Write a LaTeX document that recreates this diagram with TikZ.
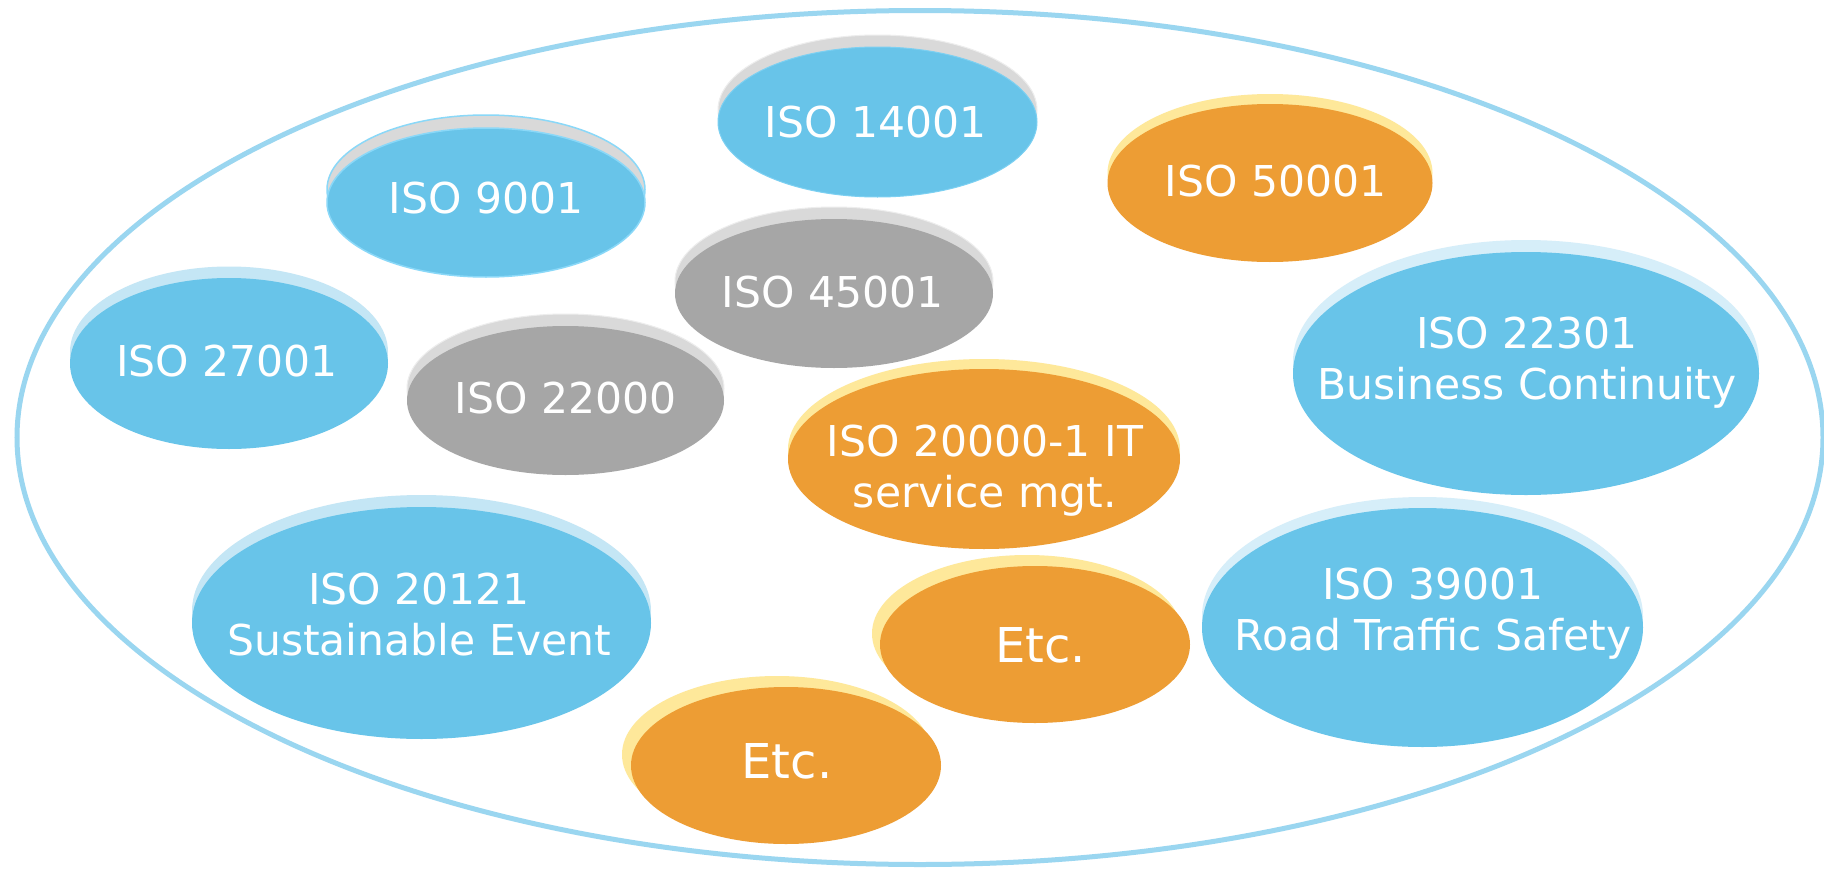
\documentclass[tikz,border=0pt]{standalone}
\usepackage{fontspec}
\usetikzlibrary{shapes.geometric}
\newfontfamily\lblfont{DejaVu Sans}

\definecolor{blueMain}{HTML}{68C4E9}
\definecolor{orangeMain}{HTML}{ED9D34}
\definecolor{grayMain}{HTML}{A6A6A6}
\definecolor{grayBack}{HTML}{D9D9D9}
\definecolor{grayEdge}{HTML}{EDEDED}
\definecolor{yellowBack}{HTML}{FEE89A}
\definecolor{lblueBack}{HTML}{C4E6F5}
\definecolor{pblueBack}{HTML}{D6EEF9}
\definecolor{edgeBlue}{HTML}{8AD8F8}
\definecolor{outerBlue}{HTML}{9AD6F0}

\tikzset{
  blob/.style={ellipse, inner sep=0pt, outer sep=0pt},
  % back (highlight) and front fills for each colour family
  gb back/.style={fill=grayBack, draw=grayEdge, line width=1pt},
  gb main/.style={fill=blueMain, draw=edgeBlue!60!blueMain, line width=1pt},
  eb back/.style={fill=grayBack, draw=edgeBlue, line width=1.5pt},
  eb main/.style={fill=blueMain, draw=edgeBlue, line width=1.5pt},
  gg back/.style={fill=grayBack, draw=grayEdge, line width=1pt},
  gg main/.style={fill=grayMain},
  lb back/.style={fill=lblueBack},
  lb main/.style={fill=blueMain},
  pb back/.style={fill=pblueBack},
  pb main/.style={fill=blueMain},
  yo back/.style={fill=yellowBack},
  yo main/.style={fill=orangeMain},
  lbl/.style={text=white, inner sep=0pt, align=center,
    font=\lblfont\fontsize{42.5}{51}\selectfont},
  etclbl/.style={lbl, font=\lblfont\fontsize{48}{58}\selectfont},
  outerring/.style={draw=outerBlue, line width=5pt},
}

% fixed line strut for two-line labels
\newcommand\zs{\rule[-11pt]{0pt}{45pt}}

% name, cx, cy, rx, ry, back-x, back-y, colour family
\newcommand\blob[8]{%
  \node[blob, #8 back, minimum width={2*#4}, minimum height={2*#5}] (#1-back) at (#6,#7) {};
  \node[blob, #8 main, minimum width={2*#4}, minimum height={2*#5}] (#1) at (#2,#3) {};
}

\begin{document}
\begin{tikzpicture}[x=1pt,y=-1pt]
\useasboundingbox (0,0) rectangle (1824,870);
\fill[white] (0,0) rectangle (1824,870);

% enclosing ring
\node[blob, outerring, minimum width=1806, minimum height=854] (ring) at (920,437.5) {};

\blob{iso14001}{877.5}{122}{159.5}{75}{877.5}{110}{gb}
\node[lbl, anchor=base] (t14001) at (875.5,137) {ISO 14001};

\blob{iso9001}{486}{202.5}{159}{74.5}{486}{189.5}{eb}
\node[lbl, anchor=base] (t9001) at (486,213) {ISO 9001};

\blob{iso50001}{1270}{183}{162.5}{79}{1270}{173}{yo}
\node[lbl, anchor=base] (t50001) at (1275.5,196) {ISO 50001};

\blob{iso45001}{834}{293.5}{159}{74.5}{834}{281.5}{gg}
\node[lbl, anchor=base] (t45001) at (832.6,307) {ISO 45001};

\blob{iso27001}{229}{363.5}{159}{85.5}{229}{352}{lb}
\node[lbl, anchor=base] (t27001) at (227,376) {ISO 27001};

\blob{iso22000}{565.5}{400.5}{158.5}{74.5}{565.5}{388.5}{gg}
\node[lbl, anchor=base] (t22000) at (565.7,413) {ISO 22000};

\blob{iso22301}{1526}{373.5}{233}{121.5}{1526}{361.5}{pb}
\node[lbl] (t22301) at (1527,362) {ISO 22301\zs\\Business Continuity\zs};

\blob{iso20000}{984}{459}{196}{90}{984}{449}{yo}
\node[lbl] (t20000) at (985,470) {ISO 20000-1 IT\zs\\service mgt.\zs};

\blob{iso20121}{421.5}{623}{229.5}{116}{421.5}{611}{lb}
\node[lbl] (t20121) at (419,618) {ISO 20121\zs\\Sustainable Event\zs};

\blob{iso39001}{1422.5}{627.5}{220.5}{119.5}{1422.5}{616.5}{pb}
\node[lbl] (t39001) at (1433,613) {ISO 39001\zs\\Road Traffic Safety\zs};

\blob{etcA}{1035}{644.5}{155}{78.5}{1027}{633.5}{yo}
\node[etclbl, anchor=base] (tetcA) at (1040.6,662) {Etc.};

\blob{etcB}{786}{765.5}{155}{78.5}{777}{754.5}{yo}
\node[etclbl, anchor=base] (tetcB) at (787,778) {Etc.};
\end{tikzpicture}
\end{document}
